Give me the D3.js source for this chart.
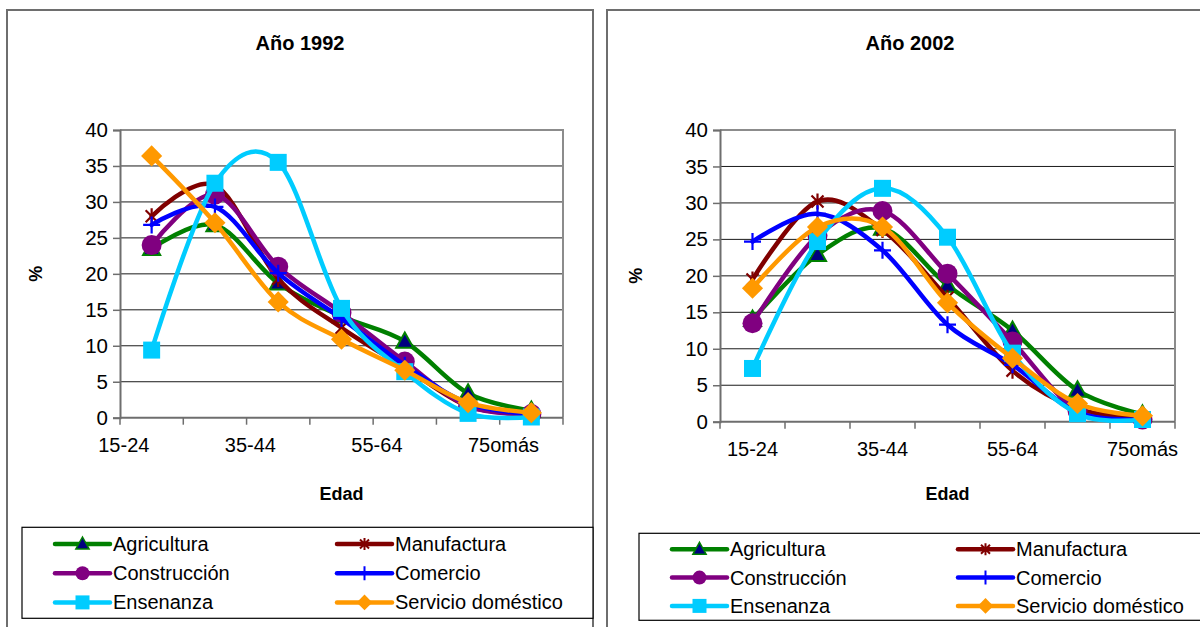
<!DOCTYPE html>
<html>
<head>
<meta charset="utf-8">
<script src="https://cdn.jsdelivr.net/npm/d3@7"></script>
<style>
  html, body { margin: 0; padding: 0; background: #fff; }
  svg { display: block; font-family: "Liberation Sans", Arial, sans-serif; }
</style>
</head>
<body>
<svg id="chart" width="1200" height="627"></svg>
<script>
// Age groups (x categories) and the labels shown under the axis
const categories = ["15-24", "25-34", "35-44", "45-54", "55-64", "65-74", "75omás"];
const tickLabels = ["15-24", "35-44", "55-64", "75omás"];
const yTicks = [0, 5, 10, 15, 20, 25, 30, 35, 40];

const seriesNames = ["Agricultura", "Manufactura", "Construcción", "Comercio", "Ensenanza", "Servicio doméstico"];

// Share (%) of workers by age group, 1992
const agricultura1992 = [23.5, 26.8, 18.7, 14.1, 10.6, 3.4, 1.0];
const manufactura1992 = [28.0, 32.3, 19.3, 12.5, 7.0, 1.6, 0.5];
const construccion1992 = [24.0, 31.0, 21.0, 14.6, 7.8, 1.6, 0.5];
const comercio1992 = [26.8, 29.3, 20.1, 13.8, 7.3, 2.0, 0.5];
const ensenanza1992 = [9.4, 32.6, 35.5, 15.2, 6.4, 0.6, 0.1];
const servicio1992 = [36.4, 27.1, 16.1, 10.9, 6.6, 2.1, 0.7];

// Share (%) of workers by age group, 2002
const agricultura2002 = [14.0, 22.9, 26.5, 18.7, 12.5, 4.3, 1.0];
const manufactura2002 = [19.5, 30.2, 26.3, 17.0, 7.0, 1.8, 0.5];
const construccion2002 = [13.5, 25.5, 28.9, 20.3, 11.0, 1.5, 0.3];
const comercio2002 = [24.7, 28.5, 23.5, 13.3, 7.8, 1.3, 0.3];
const ensenanza2002 = [7.3, 24.7, 32.0, 25.3, 9.4, 1.1, 0.3];
const servicio2002 = [18.3, 26.7, 26.7, 16.3, 8.7, 2.5, 0.8];

// Visual style per series
const styles = [
  { line: "#008000", marker: "triangle", fill: "#000080", stroke: "#008000" },
  { line: "#800000", marker: "star", fill: "none", stroke: "#800000" },
  { line: "#800080", marker: "circle", fill: "#800080", stroke: "#800080" },
  { line: "#0000FF", marker: "plus", fill: "none", stroke: "#0000FF" },
  { line: "#00CCFF", marker: "square", fill: "#00CCFF", stroke: "#00CCFF" },
  { line: "#FF9900", marker: "diamond", fill: "#FF9900", stroke: "#FF9900" }
];

function markerPath(kind, s) {
  switch (kind) {
    case "triangle": return `M0,${-s}L${s * 0.95},${s * 0.7}L${-s * 0.95},${s * 0.7}Z`;
    case "star": return `M${-s * 0.75},${-s * 0.75}L${s * 0.75},${s * 0.75}M${-s * 0.75},${s * 0.75}L${s * 0.75},${-s * 0.75}M0,${-s}V${s}`;
    case "circle": return d3.symbol(d3.symbolCircle, Math.PI * s * s)();
    case "plus": return `M${-s},0H${s}M0,${-s}V${s}`;
    case "square": return `M${-s},${-s}H${s}V${s}H${-s}Z`;
    case "diamond": return `M0,${-s * 1.2}L${s * 1.2},0L0,${s * 1.2}L${-s * 1.2},0Z`;
  }
}

const svg = d3.select("#chart");
svg.append("rect").attr("width", 1200).attr("height", 627).attr("fill", "#fff");

function drawPanel(cfg) {
  const g = svg.append("g");
  // outer chart frame
  g.append("rect")
    .attr("x", cfg.frame[0]).attr("y", cfg.frame[1])
    .attr("width", cfg.frame[2]).attr("height", cfg.frame[3])
    .attr("fill", "#fff").attr("stroke", "#6e6e6e").attr("stroke-width", 2);

  const x = d3.scaleBand().domain(categories).range([cfg.plot.left, cfg.plot.right]);
  const y = d3.scaleLinear().domain([0, 40]).range([cfg.plot.bottom, cfg.plot.top]);
  const cx = d => x(d) + x.bandwidth() / 2;

  // horizontal gridlines
  g.append("g").selectAll("line")
    .data(yTicks.filter(t => t > 0 && t < 40))
    .join("line")
    .attr("x1", cfg.plot.left).attr("x2", cfg.plot.right)
    .attr("y1", d => y(d)).attr("y2", d => y(d))
    .attr("stroke", "#1a1a1a").attr("stroke-width", 1);

  // plot area border (top/right)
  g.append("path")
    .attr("d", `M${cfg.plot.left},${y(40)}H${cfg.plot.right}V${cfg.plot.bottom}`)
    .attr("fill", "none").attr("stroke", "#8c8c8c").attr("stroke-width", 2);

  // y axis
  const yAxis = g.append("g")
    .attr("transform", `translate(${cfg.plot.left},0)`)
    .call(d3.axisLeft(y).tickValues(yTicks).tickSize(7).tickPadding(5));
  yAxis.select(".domain").attr("stroke", "#6e6e6e").attr("stroke-width", 2);
  yAxis.selectAll(".tick line").attr("stroke", "#6e6e6e").attr("stroke-width", 1.5);
  yAxis.selectAll(".tick text")
    .attr("font-size", 20.5).attr("fill", "#000")
    .attr("font-family", "Liberation Sans, Arial, sans-serif");

  // x axis: tick marks at category boundaries
  const xAxis = g.append("g").attr("transform", `translate(0,${cfg.plot.bottom})`);
  xAxis.append("line")
    .attr("x1", cfg.plot.left).attr("x2", cfg.plot.right)
    .attr("stroke", "#6e6e6e").attr("stroke-width", 2);
  const bounds = categories.map(c => x(c)).concat([cfg.plot.right]);
  xAxis.selectAll("line.tk").data(bounds).join("line").attr("class", "tk")
    .attr("x1", d => d).attr("x2", d => d).attr("y1", 0).attr("y2", 7)
    .attr("stroke", "#6e6e6e").attr("stroke-width", 1.5);
  xAxis.selectAll("text").data(tickLabels).join("text")
    .attr("x", d => cx(d) + cfg.labelShift * x.step())
    .attr("y", 34)
    .attr("text-anchor", "middle")
    .attr("font-size", 20).attr("fill", "#000")
    .text(d => d);

  // titles
  g.append("text")
    .attr("x", cfg.titleX).attr("y", 50)
    .attr("text-anchor", "middle").attr("font-weight", "bold").attr("font-size", 20)
    .text(cfg.title);
  g.append("text")
    .attr("x", (cfg.plot.left + cfg.plot.right) / 2).attr("y", 500)
    .attr("text-anchor", "middle").attr("font-weight", "bold").attr("font-size", 18)
    .text("Edad");
  g.append("text")
    .attr("transform", `translate(${cfg.plot.left - 78},${(cfg.plot.top + cfg.plot.bottom) / 2}) rotate(-90)`)
    .attr("text-anchor", "middle").attr("font-weight", "bold").attr("font-size", 18)
    .text("%");

  // series lines (smoothed) and markers
  const line = d3.line()
    .x((d, i) => cx(categories[i]))
    .y(d => y(d))
    .curve(d3.curveCardinal.tension(0));

  cfg.series.forEach((vals, si) => {
    const st = styles[si];
    const sg = g.append("g");
    sg.append("path")
      .attr("d", line(vals))
      .attr("fill", "none").attr("stroke", st.line).attr("stroke-width", 4.5)
      .attr("stroke-linejoin", "round").attr("stroke-linecap", "round");
    sg.selectAll("path.mk").data(vals).join("path").attr("class", "mk")
      .attr("transform", (d, i) => `translate(${cx(categories[i])},${y(d)})`)
      .attr("d", markerPath(st.marker, cfg.markerSize[st.marker]))
      .attr("fill", st.fill)
      .attr("stroke", st.stroke)
      .attr("stroke-width", st.marker === "star" || st.marker === "plus" ? 2.2 : (st.marker === "triangle" ? 2 : 0));
  });

  // legend
  const lg = g.append("g");
  lg.append("rect")
    .attr("x", cfg.legend.x).attr("y", cfg.legend.y)
    .attr("width", cfg.legend.w).attr("height", cfg.legend.h)
    .attr("fill", "#fff").attr("stroke", "#000").attr("stroke-width", 1.2);
  const legendSizes = { triangle: 7, star: 6, circle: 7, plus: 7, square: 7, diamond: 6.5 };
  seriesNames.forEach((name, i) => {
    const col = i % 2, row = Math.floor(i / 2);
    const x0 = cfg.legend.colX[col];
    const yy = cfg.legend.rowY + row * cfg.legend.rowH;
    const st = styles[i];
    const e = lg.append("g");
    e.append("line")
      .attr("x1", x0).attr("x2", x0 + 55).attr("y1", yy).attr("y2", yy)
      .attr("stroke", st.line).attr("stroke-width", 4.5).attr("stroke-linecap", "round");
    e.append("path")
      .attr("transform", `translate(${x0 + 27.5},${yy})`)
      .attr("d", markerPath(st.marker, legendSizes[st.marker]))
      .attr("fill", st.fill).attr("stroke", st.stroke)
      .attr("stroke-width", st.marker === "star" || st.marker === "plus" ? 2 : (st.marker === "triangle" ? 1.5 : 0));
    e.append("text")
      .attr("x", x0 + 58).attr("y", yy + 7)
      .attr("font-size", 20).attr("fill", "#000")
      .text(name);
  });
}

const markerSize = { triangle: 9, star: 8, circle: 10, plus: 8.5, square: 8.5, diamond: 8.8 };

drawPanel({
  title: "Año 1992",
  titleX: 300,
  frame: [7, 10, 586, 660],
  plot: { left: 120, right: 563, top: 130, bottom: 417.7 },
  labelShift: -0.44,
  series: [agricultura1992, manufactura1992, construccion1992, comercio1992, ensenanza1992, servicio1992],
  markerSize,
  legend: { x: 22, y: 527.3, w: 571, h: 91, colX: [55, 337], rowY: 544, rowH: 29.2 }
});

drawPanel({
  title: "Año 2002",
  titleX: 910,
  frame: [607, 10, 640, 660],
  plot: { left: 720, right: 1175, top: 130, bottom: 421.7 },
  labelShift: 0,
  series: [agricultura2002, manufactura2002, construccion2002, comercio2002, ensenanza2002, servicio2002],
  markerSize,
  legend: { x: 639, y: 533.3, w: 600, h: 87, colX: [672, 958], rowY: 549.3, rowH: 28.3 }
});
</script>
</body>
</html>
